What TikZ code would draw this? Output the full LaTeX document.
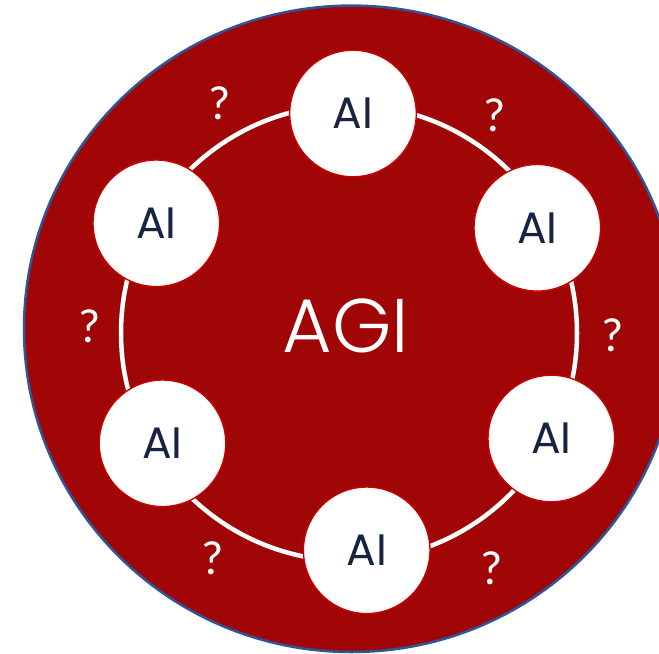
\documentclass[tikz,border=0pt]{standalone}
\usepackage{fontspec}
\setmainfont{Poppins}
\newfontfamily\qfont{Carlito}
\newfontfamily\agifont{Poppins Light}
\usetikzlibrary{backgrounds}
\definecolor{agired}{RGB}{160,6,6}
\definecolor{rimblue}{RGB}{47,85,151}
\definecolor{nodered}{RGB}{204,0,0}
\definecolor{ainavy}{RGB}{22,36,66}

\begin{document}
\begin{tikzpicture}[x=1bp,y=-1bp,
ai/.style={circle,draw=nodered,line width=1.4bp,fill=white,minimum size=126.6bp,inner sep=0pt,text=ainavy,font=\fontsize{44bp}{44bp}\selectfont},
ring/.style={white,line width=4.5bp},
ques/.style={text=white,font=\qfont\fontsize{48bp}{48bp}\selectfont}]
\useasboundingbox (0,0) rectangle (659,654);
\clip (0,0) rectangle (659,654);
\draw[rimblue,fill=agired,line width=2.5bp] (351.5,328.8) ellipse [x radius=327.5, y radius=323.2];
\node[text=white,font=\agifont\fontsize{76bp}{76bp}\selectfont] (agi) at (346,326) {AGI};
\coordinate (hub) at (349,333);
\draw[ring] (hub) circle [radius=228];

\node[ai] (top) at (353,113.5) {AI};
\node[ai] (uright) at (537.3,227.8) {AI};
\node[ai] (lright) at (551.3,438.5) {AI};
\node[ai] (bottom) at (366.7,550.3) {AI};
\node[ai] (lleft) at (162.5,443.3) {AI};
\node[ai] (uleft) at (156.3,223.3) {AI};

\node[ques] (q1) at (495,115) {?};
\node[ques] (q2) at (612.3,335) {?};
\node[ques] (q3) at (491.7,568.3) {?};
\node[ques] (q4) at (212.3,558.3) {?};
\node[ques] (q5) at (90,326.7) {?};
\node[ques] (q6) at (220,103) {?};
\end{tikzpicture}
\end{document}
